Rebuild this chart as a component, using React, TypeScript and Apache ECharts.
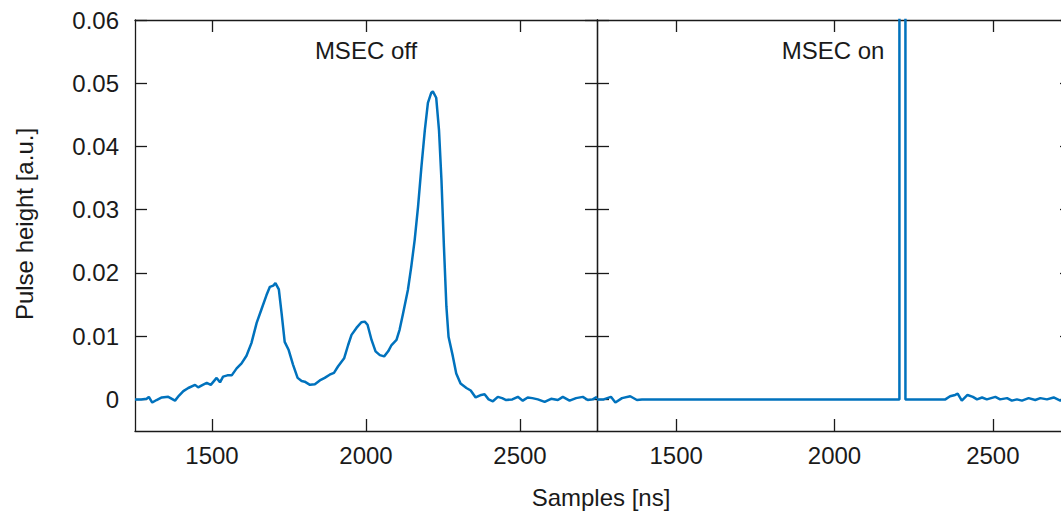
import { useEffect, useRef } from "react";
import * as echarts from "echarts";

// MSEC off: sample time [ns] and pulse height [a.u.]
const offNs = [
  1250, 1270, 1288, 1295, 1306, 1320, 1337, 1358, 1380, 1393,
  1407, 1423, 1445, 1455, 1470, 1483, 1496, 1515, 1526, 1536,
  1550, 1564, 1580, 1596, 1612, 1628, 1645, 1661, 1677, 1688,
  1699, 1706, 1717, 1726, 1736, 1749, 1763, 1778, 1791, 1801,
  1818, 1834, 1850, 1866, 1882, 1896, 1909, 1929, 1942, 1953,
  1969, 1985, 1996, 2005, 2018, 2031, 2045, 2059, 2072, 2083,
  2099, 2109, 2120, 2136, 2147, 2158, 2169, 2180, 2191, 2201,
  2212, 2217, 2228, 2237, 2245, 2253, 2261, 2268, 2282, 2293,
  2307, 2326, 2340, 2356, 2374, 2385, 2398, 2412, 2428, 2442,
  2455, 2475, 2493, 2509, 2525, 2540, 2558, 2580, 2601, 2623,
  2639, 2661, 2682, 2704, 2720, 2736, 2750,
];
const offPulse = [
  0, 0, 0.0001, 0.0004, -0.0005, -0.0001, 0.0003, 0.0004, -0.0002, 0.0006,
  0.0013, 0.0018, 0.0023, 0.0019, 0.0023, 0.0026, 0.0023, 0.0034, 0.0027, 0.0036,
  0.0038, 0.0038, 0.0049, 0.0057, 0.0069, 0.0089, 0.0121, 0.0143, 0.0165, 0.0178,
  0.018, 0.0184, 0.0174, 0.0136, 0.0091, 0.0078, 0.0055, 0.0034, 0.0029, 0.0028,
  0.0023, 0.0024, 0.003, 0.0034, 0.0039, 0.0042, 0.0052, 0.0065, 0.0086, 0.0102,
  0.0113, 0.0122, 0.0123, 0.0118, 0.0094, 0.0076, 0.007, 0.0068, 0.0076, 0.0086,
  0.0094, 0.011, 0.0135, 0.0173, 0.021, 0.0252, 0.0305, 0.0368, 0.0426, 0.0469,
  0.0485, 0.0487, 0.0477, 0.0426, 0.0347, 0.0242, 0.0147, 0.0099, 0.0068, 0.0041,
  0.0025, 0.0018, 0.0014, 0.0003, 0.0007, 0.0008, 0, -0.0003, 0.0004, 0.0002,
  -0.0001, 0, 0.0004, -0.0002, 0.0003, 0.0002, 0, -0.0004, 0.0001, -0.0001,
  0.0004, -0.0002, 0.0002, 0.0004, -0.0001, 0, 0.0004,
];

// MSEC on: sample time [ns] and pulse height [a.u.] (spike runs off the top)
const onNs = [
  1250, 1271, 1294, 1308, 1329, 1355, 1376, 1392,
  2205, 2205, 2224, 2224,
  2350, 2365, 2381, 2389, 2402, 2420, 2437, 2450,
  2466, 2481, 2508, 2523, 2545, 2560, 2576, 2592,
  2613, 2634, 2650, 2671, 2692, 2713, 2730, 2750,
];
const onPulse = [
  0, 0, 0.0004, -0.0005, 0.0002, 0.0005, -0.0001, 0,
  0, 0.1, 0.1, 0,
  0, 0.0005, 0.0007, 0.0009, -0.0002, 0.0007, 0.0004, 0,
  0.0003, 0, 0.0004, 0, 0.0002, -0.0002, 0, -0.0002,
  0.0002, -0.0001, 0.0002, 0, 0.0003, -0.0002, 0.0001, 0,
];

const xTicks = [1500, 2000, 2500];
const yTicks = [0, 0.01, 0.02, 0.03, 0.04, 0.05, 0.06];
const panelTitles = ["MSEC off", "MSEC on"];
const xName = "Samples [ns]";
const yName = "Pulse height [a.u.]";

const FONT = "'Liberation Sans', Arial, sans-serif";
const INK = "#1a1a1a";
const BLUE = "#0072BD";

export default function App() {
  const ref = useRef<HTMLDivElement>(null);

  useEffect(() => {
    document.documentElement.style.overflow = "hidden";
    document.body.style.overflow = "hidden";
    const chart = echarts.init(ref.current!, null, { renderer: "svg" });
    const grids = [
      { left: 135, top: 20, width: 462, height: 411 },
      { left: 597, top: 20, width: 475, height: 411 },
    ];
    const axisLineStyle = { color: INK, width: 1.3 };
    const xAxis: any[] = [];
    const yAxis: any[] = [];
    grids.forEach((_, i) => {
      ["bottom", "top"].forEach((pos) => {
        xAxis.push({
          type: "value",
          gridIndex: i,
          position: pos,
          min: 1250,
          max: 2750,
          axisLine: { show: true, onZero: false, lineStyle: axisLineStyle },
          axisTick: { show: true, inside: true, length: 12, lineStyle: axisLineStyle, customValues: xTicks },
          axisLabel: {
            show: pos === "bottom",
            customValues: xTicks,
            margin: 12,
            fontFamily: FONT,
            fontSize: 24,
            color: INK,
            formatter: (v: number) => String(Math.round(v)),
          },
          splitLine: { show: false },
        });
      });
      ["left", "right"].forEach((pos) => {
        yAxis.push({
          type: "value",
          gridIndex: i,
          position: pos,
          min: -0.005,
          max: 0.06,
          axisLine: { show: true, onZero: false, lineStyle: axisLineStyle },
          axisTick: { show: true, inside: true, length: 12, lineStyle: axisLineStyle, customValues: yTicks },
          axisLabel: {
            show: i === 0 && pos === "left",
            customValues: yTicks,
            margin: 16,
            fontFamily: FONT,
            fontSize: 24,
            color: INK,
            formatter: (v: number) => String(Math.round(v * 1000) / 1000),
          },
          splitLine: { show: false },
        });
      });
    });

    chart.setOption({
      animation: false,
      backgroundColor: "#ffffff",
      grid: grids,
      xAxis,
      yAxis,
      series: [
        {
          type: "line",
          xAxisIndex: 0,
          yAxisIndex: 0,
          data: offNs.map((t, k) => [t, offPulse[k]]),
          showSymbol: false,
          clip: true,
          lineStyle: { color: BLUE, width: 2.5 },
          itemStyle: { color: BLUE },
        },
        {
          type: "line",
          xAxisIndex: 2,
          yAxisIndex: 2,
          data: onNs.map((t, k) => [t, onPulse[k]]),
          showSymbol: false,
          clip: true,
          lineStyle: { color: BLUE, width: 2.5 },
          itemStyle: { color: BLUE },
        },
      ],
      graphic: [
        {
          type: "text",
          x: 366,
          y: 50,
          style: { text: panelTitles[0], fill: INK, font: `24px ${FONT}`, textAlign: "center", textVerticalAlign: "middle" },
        },
        {
          type: "text",
          x: 833,
          y: 50,
          style: { text: panelTitles[1], fill: INK, font: `24px ${FONT}`, textAlign: "center", textVerticalAlign: "middle" },
        },
        {
          type: "text",
          x: 601,
          y: 497,
          style: { text: xName, fill: INK, font: `24px ${FONT}`, textAlign: "center", textVerticalAlign: "middle" },
        },
        {
          type: "text",
          x: 24,
          y: 224,
          rotation: Math.PI / 2,
          style: { text: yName, fill: INK, font: `24px ${FONT}`, textAlign: "center", textVerticalAlign: "middle" },
        },
      ],
    });

    return () => chart.dispose();
  }, []);

  return (
    <div
      ref={ref}
      style={{ position: "fixed", left: 0, top: 0, width: 1076, height: 514, background: "#fff" }}
    />
  );
}
